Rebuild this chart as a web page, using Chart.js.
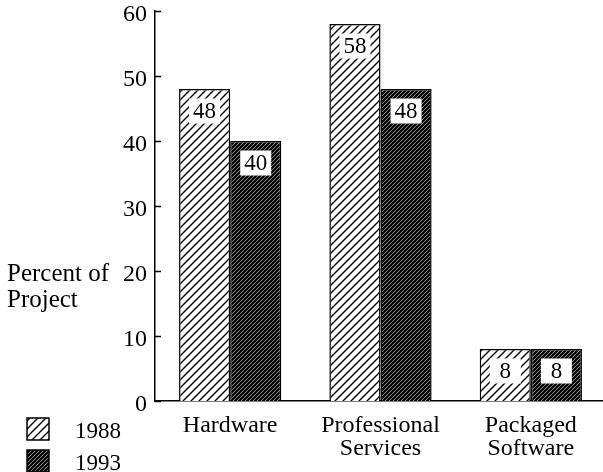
<!DOCTYPE html>
<html>
<head>
<meta charset="utf-8">
<script src="https://cdn.jsdelivr.net/npm/chart.js@4.4.1/dist/chart.umd.min.js"></script>
<style>
  html, body { margin: 0; padding: 0; background: #fff; overflow: hidden; }
  canvas { display: block; }
</style>
</head>
<body>
<canvas id="c" width="606" height="472"></canvas>
<script>
const categories = ['Hardware', ['Professional', 'Services'], ['Packaged', 'Software']];
const seriesNames = ['1988', '1993'];
const values1988 = [48, 58, 8];
const values1993 = [40, 48, 8];
const yTickValues = [0, 10, 20, 30, 40, 50, 60];
const yTitleLines = ['Percent of', 'Project'];

const FONT = '"Liberation Serif", "Times New Roman", serif';

function makeHatch(size, lineWidth) {
  const p = document.createElement('canvas');
  p.width = size; p.height = size;
  const g = p.getContext('2d');
  g.fillStyle = '#fff';
  g.fillRect(0, 0, size, size);
  g.strokeStyle = '#000';
  g.lineWidth = lineWidth;
  g.beginPath();
  g.moveTo(-1, size + 1); g.lineTo(size + 1, -1);
  g.moveTo(-size / 2 - 1, size / 2 + 1); g.lineTo(size / 2 + 1, -size / 2 - 1);
  g.moveTo(size / 2 - 1, size * 1.5 + 1); g.lineTo(size * 1.5 + 1, size / 2 - 1);
  g.stroke();
  return document.getElementById('c').getContext('2d').createPattern(p, 'repeat');
}

const hatchLight = makeHatch(8, 1.4);
const hatchDark = makeHatch(4, 2.3);

const extras = {
  id: 'extras',
  afterDatasetsDraw(chart) {
    const ctx = chart.ctx;
    ctx.save();
    ctx.font = '23px ' + FONT;
    ctx.textAlign = 'center';
    ctx.textBaseline = 'middle';
    chart.data.datasets.forEach((ds, di) => {
      const meta = chart.getDatasetMeta(di);
      meta.data.forEach((bar, i) => {
        const cx = bar.x;
        const cy = bar.y + 22;
        ctx.fillStyle = '#fff';
        ctx.fillRect(cx - 15.5, cy - 12.5, 31, 25);
        ctx.fillStyle = '#000';
        ctx.fillText(String(ds.data[i]), cx, cy + 1);
      });
    });
    // inward y ticks
    const y = chart.scales.y;
    const x0 = chart.chartArea.left;
    ctx.strokeStyle = '#000';
    ctx.lineWidth = 1.5;
    yTickValues.forEach(v => {
      const py = Math.round(y.getPixelForValue(v)) + 0.5;
      ctx.beginPath();
      ctx.moveTo(x0, py);
      ctx.lineTo(x0 + 6, py);
      ctx.stroke();
    });
    ctx.restore();
  },
  afterDraw(chart) {
    const ctx = chart.ctx;
    ctx.save();
    ctx.fillStyle = '#000';
    ctx.textAlign = 'left';
    ctx.textBaseline = 'middle';
    ctx.font = '25px ' + FONT;
    ctx.fillText(yTitleLines[0], 7, 274);
    ctx.fillText(yTitleLines[1], 7, 300);
    // legend
    ctx.font = '23px ' + FONT;
    chart.data.datasets.forEach((ds, di) => {
      const by = 418 + di * 32;
      ctx.fillStyle = ds.backgroundColor;
      ctx.fillRect(27, by, 22, 22);
      ctx.strokeStyle = '#000';
      ctx.lineWidth = 1.5;
      ctx.strokeRect(27, by, 22, 22);
      ctx.fillStyle = '#000';
      ctx.fillText(ds.label, 75, by + 14);
    });
    ctx.restore();
  }
};

new Chart(document.getElementById('c'), {
  type: 'bar',
  data: {
    labels: categories,
    datasets: [
      { label: seriesNames[0], data: values1988, backgroundColor: hatchLight, borderColor: '#000', borderWidth: 1.5 },
      { label: seriesNames[1], data: values1993, backgroundColor: hatchDark, borderColor: '#000', borderWidth: 1.5 }
    ]
  },
  options: {
    responsive: false,
    animation: false,
    devicePixelRatio: 1,
    categoryPercentage: 0.68,
    barPercentage: 1.0,
    layout: { padding: { top: 0, left: 0, right: 0, bottom: 0 } },
    plugins: { legend: { display: false }, tooltip: { enabled: false } },
    scales: {
      x: {
        grid: { display: false, drawTicks: false },
        border: { display: true, color: '#000', width: 1.5 },
        ticks: { color: '#000', font: { family: FONT, size: 24, lineHeight: 0.96 }, padding: 13, maxRotation: 0, autoSkip: false },
        afterFit(s) { s.height = 71; s.paddingLeft = 0; s.paddingRight = 0; }
      },
      y: {
        min: 0, max: 60,
        afterBuildTicks(s) { s.ticks = yTickValues.map(v => ({ value: v })); },
        grid: { display: false, drawTicks: false },
        border: { display: true, color: '#000', width: 1.5 },
        ticks: { color: '#000', font: { family: FONT, size: 24, lineHeight: 0.92 }, padding: 8, labelOffset: 4 },
        afterFit(s) { s.width = 155; s.paddingTop = 11; s.paddingBottom = 0; }
      }
    }
  },
  plugins: [extras]
});
</script>
</body>
</html>
